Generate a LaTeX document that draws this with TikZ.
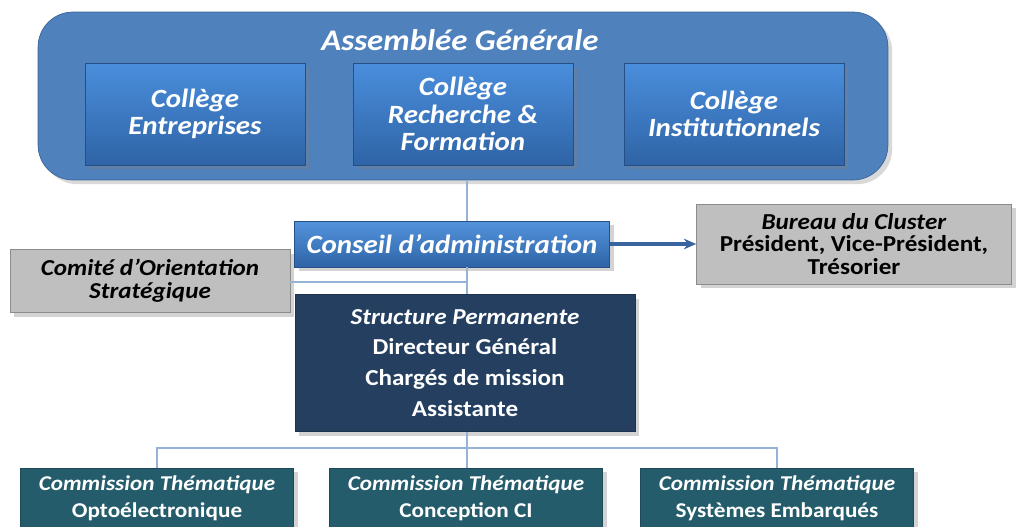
\documentclass[tikz,border=0pt]{standalone}
\usepackage{fontspec}
\setmainfont{Carlito}[FakeStretch=1.1]
\usepackage{xcolor}
\usetikzlibrary{arrows.meta, shadows}

\definecolor{agblue}{HTML}{4F81BD}
\definecolor{agborder}{HTML}{3B6496}
\definecolor{coltop}{HTML}{4A8EDC}
\definecolor{colbot}{HTML}{2F64A6}
\definecolor{boxgray}{HTML}{BFBFBF}
\definecolor{grayborder}{HTML}{8C8C8C}
\definecolor{navy}{HTML}{243F60}
\definecolor{teal}{HTML}{245C6B}
\definecolor{linkblue}{HTML}{95B3D7}
\definecolor{arrowblue}{HTML}{3A64A0}

\begin{document}
\begin{tikzpicture}[x=0.02cm, y=-0.02cm,
    collbox/.style={draw=colbot!80!black, top color=coltop, bottom color=colbot,
        minimum width=4.4cm, minimum height=2.04cm, align=center, text=white,
        font=\fontsize{15}{15.5}\selectfont\bfseries\itshape, drop shadow={opacity=0.35}},
    graybox/.style={draw=grayborder, fill=boxgray, align=center, text=black,
        font=\fontsize{13}{13}\selectfont\bfseries, drop shadow={opacity=0.35}},
    commbox/.style={draw=teal!80!black, fill=teal, minimum width=5.46cm, minimum height=1.22cm,
        align=center, text=white, font=\fontsize{12}{15.3}\selectfont\bfseries, drop shadow={opacity=0.35}},
    link/.style={draw=linkblue, line width=1.2pt}]

    \useasboundingbox (0,0) rectangle (1031,527);
    \clip (0,0) rectangle (1031,527);

    % Assemblee generale
    \node[draw=agborder, fill=agblue, rounded corners=0.7cm, minimum width=17cm,
        minimum height=3.36cm, drop shadow={opacity=0.3}] (ag) at (463,96) {};
    \node[text=white, font=\fontsize{17}{17}\selectfont\bfseries\itshape] (agtitle) at (460,40) {Assemblée Générale};

    \node[collbox] (entreprises) at (195,114) {Collège\\Entreprises};
    \node[collbox] (recherche) at (463,114) {Collège\\Recherche \&\\Formation};
    \node[collbox] (institutionnels) at (734,114) {Collège\\Institutionnels};

    % conseil et bureau
    \node[draw=colbot!80!black, top color=coltop!95!white, bottom color=colbot, minimum width=6.3cm,
        minimum height=0.92cm, text=white, font=\fontsize{15}{15}\selectfont\bfseries\itshape,
        drop shadow={opacity=0.35}] (conseil) at (452,244) {Conseil d’administration};
    \node[graybox, minimum width=6.3cm, minimum height=1.6cm] (bureau) at (854,244)
        {\textit{Bureau du Cluster}\\Président, Vice-Président,\\Trésorier};
    \node[graybox, minimum width=5.6cm, minimum height=1.26cm] (comite) at (150,281)
        {\textit{Comité d’Orientation}\\\textit{Stratégique}};

    % structure permanente
    \node[draw=navy!80!black, fill=navy, minimum width=6.8cm, minimum height=2.74cm, align=center,
        text=white, font=\fontsize{13}{17.6}\selectfont\bfseries, drop shadow={opacity=0.35}] (structure) at (465,363)
        {\textit{Structure Permanente}\\Directeur Général\\Chargés de mission\\Assistante};

    % commissions
    \node[commbox] (opto) at (157,498.5) {\textit{Commission Thématique}\\Optoélectronique};
    \node[commbox] (concep) at (466,498.5) {\textit{Commission Thématique}\\Conception CI};
    \node[commbox] (syst) at (777,498.5) {\textit{Commission Thématique}\\Systèmes Embarqués};

    % liaisons
    \coordinate (split) at (467,448);
    \coordinate (cross) at (467,282);
    \draw[link] (ag.south -| split) -- (conseil.north -| split);
    \draw[link] (conseil.south -| split) -- (structure.north -| split);
    \draw[link] (comite.east |- cross) -- (cross);
    \draw[link] (structure.south -| split) -- (split);
    \draw[link] (opto.north) -- (opto.north |- split) -- (syst.north |- split) -- (syst.north);
    \draw[link] (split) -- (concep.north -| split);
    \draw[arrowblue, line width=2.2pt, -{Stealth[length=7pt, width=6pt]}] (conseil.east) -- (bureau.west);

\end{tikzpicture}
\end{document}
